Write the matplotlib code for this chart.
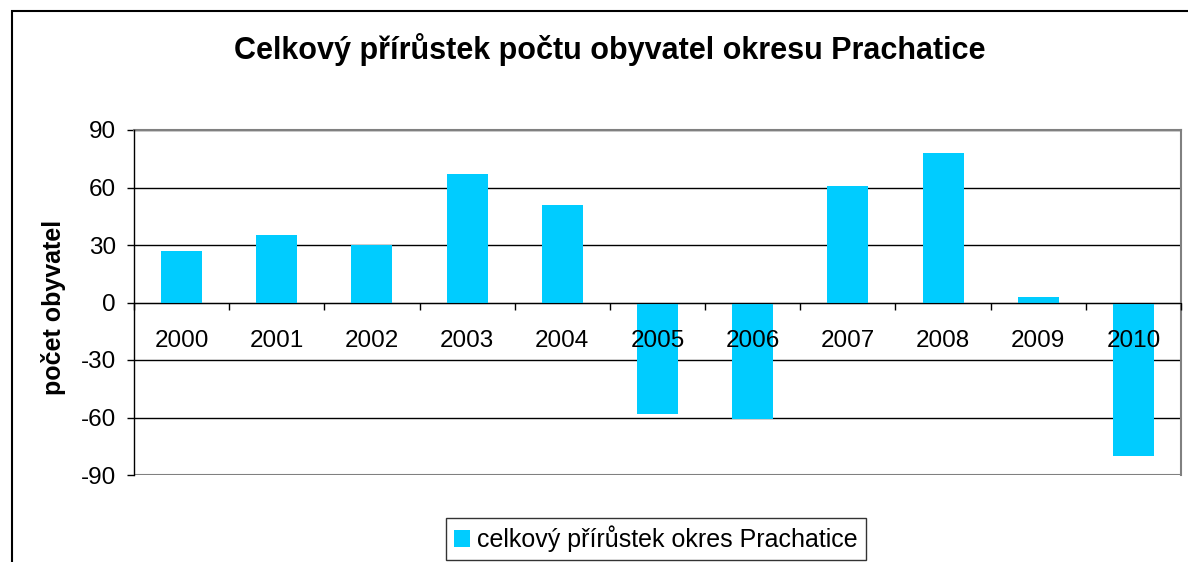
import matplotlib
matplotlib.use("Agg")
import matplotlib.pyplot as plt
from matplotlib.patches import Rectangle
import numpy as np

plt.rcParams['font.family'] = ['Liberation Sans', 'DejaVu Sans']

years = ['2000', '2001', '2002', '2003', '2004', '2005', '2006', '2007', '2008', '2009', '2010']
values = [27, 35, 30, 67, 51, -58, -61, 61, 78, 3, -80]
yticks = [-90, -60, -30, 0, 30, 60, 90]
title = 'Celkový přírůstek počtu obyvatel okresu Prachatice'
ylabel = 'počet obyvatel'
series_name = 'celkový přírůstek okres Prachatice'

W, H = 1188, 562
fig = plt.figure(figsize=(W / 100, H / 100), dpi=100)

# outer chart frame (cut at right/bottom)
fig.patches.append(Rectangle((12 / W, -0.1), 1.2, 1 - 11 / H + 0.1, transform=fig.transFigure,
                             fill=False, edgecolor='black', linewidth=1.5))

L, R, T, B = 134, 1181, 130, 475
ax = fig.add_axes([L / W, 1 - B / H, (R - L) / W, (B - T) / H])
x = np.arange(len(years))
ax.bar(x, values, width=0.43, color='#00CCFF', zorder=2, label=series_name)

ax.set_xlim(-0.5, len(years) - 0.5)
ax.set_ylim(-90, 90)
ax.set_yticks(yticks)
ax.set_yticklabels([str(v) for v in yticks], fontsize=17.5)
ax.yaxis.grid(True, color='black', linewidth=1)
ax.yaxis.set_zorder(1)
ax.xaxis.set_zorder(5)

for s in ['top', 'right']:
    ax.spines[s].set_color('#808080')
    ax.spines[s].set_linewidth(1.5)
ax.spines['left'].set_color('black')
ax.spines['left'].set_linewidth(1)
ax.spines['left'].set_zorder(4)
ax.spines['bottom'].set_position(('data', 0))
ax.spines['bottom'].set_color('black')
ax.spines['bottom'].set_zorder(4)
ax.axhline(-90, color='#808080', linewidth=1.5, zorder=3)

ax.tick_params(axis='y', direction='out', length=5, width=1, pad=8)
ax.set_xticks(x)
ax.set_xticklabels(years, fontsize=17.5)
ax.tick_params(axis='x', which='major', length=0, pad=19.5)
ax.set_xticks(np.arange(len(years) + 1) - 0.5, minor=True)
ax.tick_params(axis='x', which='minor', direction='out', length=5, width=1)

fig.text(54 / W, 1 - 307 / H, ylabel, rotation=90, ha='center', va='center',
         fontsize=18, fontweight='bold')

fig.text(610 / W, 1 - 50 / H, title, ha='center', va='center', fontsize=22, fontweight='bold')

leg = fig.legend(loc='center', bbox_to_anchor=(656 / W, 1 - 539 / H), fontsize=18,
                 frameon=True, fancybox=False, edgecolor='black', handlelength=0.64,
                 handleheight=0.64, handletextpad=0.3, borderpad=0.3)
leg.get_frame().set_linewidth(1)

fig.savefig('out.png', dpi=100)
